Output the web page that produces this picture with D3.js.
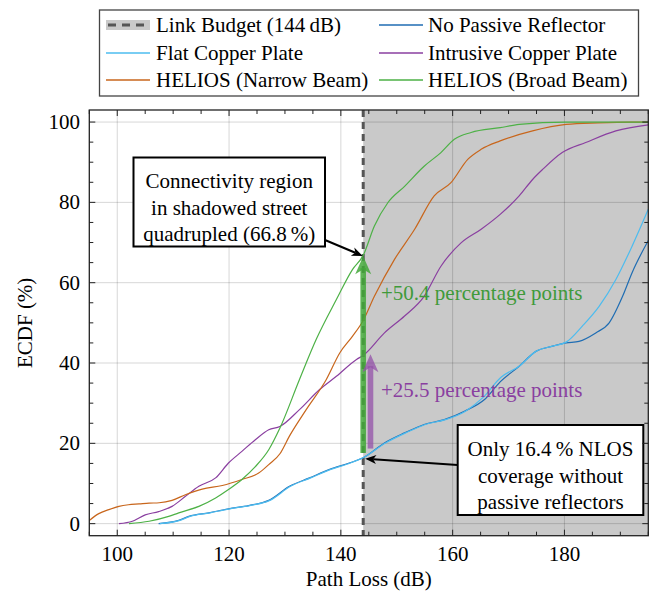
<!DOCTYPE html>
<html><head><meta charset="utf-8">
<script src="https://cdn.jsdelivr.net/npm/d3@7"></script>
<style>body{margin:0;background:#fff}svg{display:block}</style>
</head><body><div id="chart"></div>
<script>
// ---- data ----
const xTicks = [100, 120, 140, 160, 180];
const yTicks = [0, 20, 40, 60, 80, 100];
const linkBudget = 144;

const narrowX = [95, 96.7, 98.5, 100.3, 102, 103.9, 105.7, 107.5, 109.8, 112.2, 115.2, 118.8, 122.3, 125.3, 127.1, 129.1, 130.8, 133.8, 137.4, 139.8, 142.1, 144, 146, 149.6, 153.2, 156.7, 159.7, 162.7, 165.1, 168.5, 174.3, 180.3, 186, 192, 195];
const narrowY = [0.8, 2.5, 3.5, 4.3, 4.7, 4.9, 5.1, 5.2, 5.8, 7.2, 8.6, 9.5, 11, 12.6, 14.7, 17.4, 21.8, 28.4, 35.9, 42.5, 46.7, 50.6, 56.6, 65.8, 73.3, 81.6, 84.9, 90.7, 93.2, 95.3, 97.8, 99.4, 99.8, 100, 100];

const broadX = [102.1, 105.7, 109.2, 111, 114.6, 117.6, 119.9, 122.3, 124.7, 127.1, 129.1, 132.6, 135.6, 139.2, 142.1, 144, 146, 148.4, 151.4, 154.9, 157.9, 160.3, 163.3, 168.5, 171.9, 180.3, 195];
const broadY = [0, 0.6, 1.8, 2.7, 4.3, 6.4, 8.5, 11, 14.2, 18.4, 23.8, 35.9, 45.9, 55.8, 63.3, 66.8, 74.1, 79.9, 84, 89, 92.4, 95.7, 97.4, 98.6, 99.4, 100, 100];

const intrusiveX = [100.3, 102.7, 105, 107.4, 109.8, 112.2, 114.6, 117.6, 119.9, 122.3, 124.7, 127.1, 129.1, 132.6, 136.2, 139.2, 142.8, 144, 147.8, 151.4, 154.9, 157.9, 161.5, 165.1, 168.5, 171.9, 174.3, 176.1, 179.6, 183.8, 189.2, 195];
const intrusiveY = [0, 0.6, 2.2, 3, 4.3, 6.8, 9.3, 11.4, 15.1, 18, 20.9, 23.4, 24.2, 28.4, 33.4, 36.7, 40.9, 41.9, 47.5, 51.7, 56.6, 64.1, 69.9, 73.3, 77, 81.6, 85.7, 88.2, 92.4, 94.9, 97.8, 99.3];

const noReflX = [107.4, 111, 112.8, 116.4, 119.9, 123.5, 127.1, 130.8, 134.4, 138, 141.5, 144, 147.8, 151.4, 154.9, 158.5, 162.1, 165.7, 168.5, 171.9, 174.9, 177.9, 180.3, 182.6, 185.6, 188, 190.4, 192.1, 195];
const noReflY = [0, 0.8, 1.8, 2.7, 3.7, 4.5, 5.8, 9.3, 11.4, 13.5, 15.1, 16.4, 20.1, 22.6, 24.7, 25.9, 28, 30.9, 35.3, 39.2, 42.9, 44.2, 45, 45.4, 47.5, 50, 56.6, 62.5, 70.5];

const flatX = [107.6, 111.2, 113, 116.6, 120.1, 123.7, 127.3, 131, 134.6, 138.2, 141.7, 144.2, 148, 151.6, 155.1, 158.7, 162.3, 165.5, 168.6, 171.9, 174.9, 177.9, 180.3, 183.2, 186.2, 189.2, 192.1, 195];
const flatY = [0, 0.8, 1.8, 2.7, 3.7, 4.5, 5.8, 9.3, 11.4, 13.5, 15.1, 16.6, 20.1, 22.6, 24.7, 25.9, 28, 31.5, 36.4, 39.2, 42.9, 44.2, 45.2, 49.2, 54.1, 60.8, 69.1, 78.3];

const seriesNames = ["No Passive Reflector", "Flat Copper Plate", "Intrusive Copper Plate", "HELIOS (Narrow Beam)", "HELIOS (Broad Beam)"];
const seriesColors = ["#1f6db3", "#4cbcef", "#8a3fa0", "#c8661c", "#4db146"];
const seriesX = [noReflX, flatX, intrusiveX, narrowX, broadX];
const seriesY = [noReflY, flatY, intrusiveY, narrowY, broadY];

// ---- layout ----
const W = 657, H = 593;
const L = 89.3, R = 648.3, T = 110, B = 535.7;
const FS = 21;
const FONT = "'Liberation Serif', 'Times New Roman', Times, 'DejaVu Serif', serif";

const svg = d3.select("#chart").append("svg").attr("width", W).attr("height", H)
  .attr("font-family", FONT).style("font-family", FONT);
const x = d3.scaleLinear().domain([95, 195]).range([L, R]);
const y = d3.scaleLinear().domain([-3, 103]).range([B, T]);

function txt(sel) { return sel.append("text").attr("font-family", FONT).style("font-family", FONT).attr("font-size", FS).attr("fill", "#000"); }

// shaded region beyond link budget
svg.append("rect").attr("x", x(linkBudget)).attr("y", T).attr("width", R - x(linkBudget)).attr("height", B - T).attr("fill", "#c9c9c9");

// grid
const grid = svg.append("g").attr("stroke", "#000").attr("stroke-opacity", 0.16).attr("stroke-width", 1);
xTicks.forEach(v => grid.append("line").attr("x1", x(v)).attr("x2", x(v)).attr("y1", T).attr("y2", B));
yTicks.forEach(v => grid.append("line").attr("x1", L).attr("x2", R).attr("y1", y(v)).attr("y2", y(v)));

// link budget dashed line
svg.append("line").attr("x1", x(linkBudget)).attr("x2", x(linkBudget)).attr("y1", T).attr("y2", B)
  .attr("stroke", "#555").attr("stroke-width", 3).attr("stroke-dasharray", "7,5");

// curves
const line = d3.line().x(d => x(d[0])).y(d => y(d[1])).curve(d3.curveMonotoneX);
seriesX.forEach((xs, i) => {
  const pts = xs.map((v, j) => [v, seriesY[i][j]]);
  svg.append("path").datum(pts).attr("d", line).attr("fill", "none")
    .attr("stroke", seriesColors[i]).attr("stroke-width", 1.2).attr("stroke-linejoin", "round");
});

// thick arrows
function stealth(g, xc, yTip, w, h, color, op) {
  const p = d3.path();
  p.moveTo(xc, yTip); p.lineTo(xc + w / 2, yTip + h); p.lineTo(xc, yTip + h * 0.72); p.lineTo(xc - w / 2, yTip + h); p.closePath();
  g.append("path").attr("d", p.toString()).attr("fill", color).attr("fill-opacity", op);
}
function bigArrow(xv, y0, y1, color, op) {
  const g = svg.append("g");
  const xc = x(xv), yb = y(y0), yt = y(y1);
  g.append("rect").attr("x", xc - 2.8).attr("y", yt + 12).attr("width", 5.6).attr("height", yb - yt - 12).attr("fill", color).attr("fill-opacity", op);
  stealth(g, xc, yt, 16, 18, color, op);
}
bigArrow(144, 17.6, 66.6, "#43a83a", 0.85);
bigArrow(145.3, 18.7, 42.2, "#9350a8", 0.75);

txt(svg).attr("x", 381).attr("y", 300).attr("fill", "#3f9a3a").text("+50.4 percentage points");
txt(svg).attr("x", 381).attr("y", 397).attr("fill", "#8a3fa0").text("+25.5 percentage points");

// annotation boxes
function arrowLine(x1, y1, x2, y2) {
  const ang = Math.atan2(y2 - y1, x2 - x1);
  const len = 11, wd = 4.5;
  const bx = x2 - len * Math.cos(ang), by = y2 - len * Math.sin(ang);
  svg.append("line").attr("x1", x1).attr("y1", y1).attr("x2", bx + 3 * Math.cos(ang)).attr("y2", by + 3 * Math.sin(ang)).attr("stroke", "#000").attr("stroke-width", 2);
  const p = d3.path();
  p.moveTo(x2, y2);
  p.lineTo(bx - wd * Math.sin(ang), by + wd * Math.cos(ang));
  p.lineTo(bx + 3 * Math.cos(ang), by + 3 * Math.sin(ang));
  p.lineTo(bx + wd * Math.sin(ang), by - wd * Math.cos(ang));
  p.closePath();
  svg.append("path").attr("d", p.toString()).attr("fill", "#000");
}
function box(x0, y0, w, h, lines, baselines) {
  svg.append("rect").attr("x", x0).attr("y", y0).attr("width", w).attr("height", h).attr("fill", "#fff").attr("stroke", "#000").attr("stroke-width", 2);
  lines.forEach((t, i) => txt(svg).attr("x", x0 + w / 2).attr("y", baselines[i]).attr("text-anchor", "middle").text(t));
}
arrowLine(325, 240, x(144) - 0.5, y(66.8) + 0.5);
box(133.5, 157.5, 191.5, 89, ["Connectivity region", "in shadowed street", "quadrupled (66.8\u2009%)"], [188, 215, 241]);
arrowLine(457.7, 465, x(144) + 2, y(16.4) + 1);
box(457.7, 425, 185.6, 90, ["Only 16.4\u2009% NLOS", "coverage without", "passive reflectors"], [456, 483, 509]);

// axes frame and ticks
const tk = svg.append("g").attr("stroke", "#222").attr("stroke-width", 1);
for (let v = 95; v <= 195; v += 5) {
  const len = v % 20 === 0 ? 6 : 4;
  tk.append("line").attr("x1", x(v)).attr("x2", x(v)).attr("y1", B).attr("y2", B - len);
  tk.append("line").attr("x1", x(v)).attr("x2", x(v)).attr("y1", T).attr("y2", T + len);
}
for (let v = 0; v <= 100; v += 5) {
  const len = v % 20 === 0 ? 6 : 4;
  tk.append("line").attr("x1", L).attr("x2", L + len).attr("y1", y(v)).attr("y2", y(v));
  tk.append("line").attr("x1", R).attr("x2", R - len).attr("y1", y(v)).attr("y2", y(v));
}
svg.append("rect").attr("x", L).attr("y", T).attr("width", R - L).attr("height", B - T).attr("fill", "none").attr("stroke", "#222").attr("stroke-width", 1.3);

xTicks.forEach(v => txt(svg).attr("x", x(v)).attr("y", 561).attr("text-anchor", "middle").text(v));
yTicks.forEach(v => txt(svg).attr("x", 80).attr("y", y(v) + 7).attr("text-anchor", "end").text(v));
txt(svg).attr("x", (L + R) / 2).attr("y", 586).attr("text-anchor", "middle").text("Path Loss (dB)");
txt(svg).attr("transform", `translate(32,${(T + B) / 2}) rotate(-90)`).attr("text-anchor", "middle").text("ECDF (%)");

// legend
const lg = svg.append("g");
lg.append("rect").attr("x", 99.5).attr("y", 10).attr("width", 539).attr("height", 86).attr("fill", "#fff").attr("stroke", "#444").attr("stroke-width", 1.3);
const rowY = [25, 53, 80];
const col = [{sx: 106, tx: 156}, {sx: 379, tx: 428}];
const legendItems = [
  {name: "Link Budget (144\u2009dB)", budget: true},
  {name: seriesNames[0], color: seriesColors[0]},
  {name: seriesNames[1], color: seriesColors[1]},
  {name: seriesNames[2], color: seriesColors[2]},
  {name: seriesNames[3], color: seriesColors[3]},
  {name: seriesNames[4], color: seriesColors[4]}
];
legendItems.forEach((it, i) => {
  const c = col[i % 2], ry = rowY[Math.floor(i / 2)];
  if (it.budget) {
    lg.append("rect").attr("x", c.sx).attr("y", ry - 5).attr("width", 44).attr("height", 10).attr("fill", "#c9c9c9");
    lg.append("line").attr("x1", c.sx + 2).attr("x2", c.sx + 44).attr("y1", ry).attr("y2", ry).attr("stroke", "#555").attr("stroke-width", 3).attr("stroke-dasharray", "8,6");
  } else {
    lg.append("line").attr("x1", c.sx).attr("x2", c.sx + 44).attr("y1", ry).attr("y2", ry).attr("stroke", it.color).attr("stroke-width", 1.5);
  }
  txt(lg).attr("x", c.tx).attr("y", ry + 7).text(it.name);
});
</script></body></html>
